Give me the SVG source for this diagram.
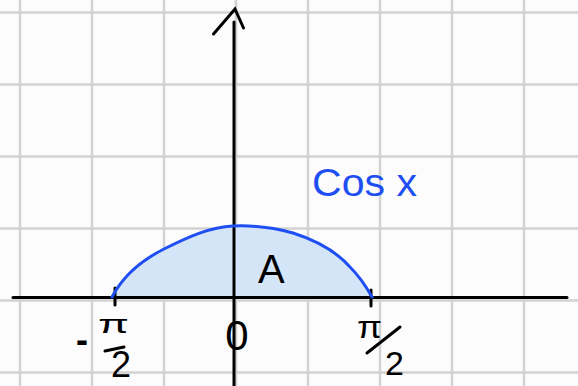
<svg xmlns="http://www.w3.org/2000/svg" width="578" height="386" viewBox="0 0 578 386">
  <style>
    .grid line { stroke: #d2d2d2; stroke-width: 2.5; }
    .ink { stroke: #000; stroke-width: 3; stroke-linecap: round; fill: none; }
    .lbl { font-family: "Liberation Sans", Arial, sans-serif; fill: #000; }
    .blue { font-family: "Liberation Sans", Arial, sans-serif; fill: #1f4ff2; }
  </style>
  <rect width="578" height="386" fill="#fcfcfc"/>
  <g id="grid" class="grid">
    <line x1="20" y1="0" x2="20" y2="386"/>
    <line x1="92" y1="0" x2="92" y2="386"/>
    <line x1="164" y1="0" x2="164" y2="386"/>
    <line x1="236" y1="0" x2="236" y2="386"/>
    <line x1="308" y1="0" x2="308" y2="386"/>
    <line x1="380" y1="0" x2="380" y2="386"/>
    <line x1="452" y1="0" x2="452" y2="386"/>
    <line x1="524" y1="0" x2="524" y2="386"/>
    <line x1="0" y1="12.5" x2="578" y2="12.5"/>
    <line x1="0" y1="84.5" x2="578" y2="84.5"/>
    <line x1="0" y1="156.5" x2="578" y2="156.5"/>
    <line x1="0" y1="228.5" x2="578" y2="228.5"/>
    <line x1="0" y1="300.5" x2="578" y2="300.5"/>
    <line x1="0" y1="372.5" x2="578" y2="372.5"/>
  </g>
  <g id="area">
    <path d="M112,297 C122,278 140,261 164,249 C188,237 210,227 233,226 C255,225 275,228 293,233 C312,239 335,250 350,267 C360,277 367,288 372,297 Z" fill="#d4e5f8"/>
  </g>
  <g id="connectors">
    <line class="ink" x1="13" y1="297.5" x2="567" y2="297.5"/>
    <line class="ink" x1="234" y1="22" x2="234" y2="386"/>
    <polyline class="ink" points="213.5,34 235,9 243.5,28"/>
    <line class="ink" x1="115" y1="288" x2="115" y2="305"/>
    <line class="ink" x1="371" y1="290" x2="371" y2="306"/>
  </g>
  <g id="curve">
    <path d="M112,297 C122,278 140,261 164,249 C188,237 210,227 233,226 C255,225 275,228 293,233 C312,239 335,250 350,267 C360,277 367,288 372,297" fill="none" stroke="#1f4ff2" stroke-width="3" stroke-linecap="round"/>
  </g>
  <g id="label-cos">
    <text class="blue" x="312" y="196" font-size="39" textLength="105" lengthAdjust="spacingAndGlyphs">Cos x</text>
  </g>
  <g id="label-A">
    <text class="lbl" x="258" y="283" font-size="40">A</text>
  </g>
  <g id="label-zero">
    <text class="lbl" x="237" y="350" font-size="42" text-anchor="middle">0</text>
  </g>
  <g id="label-neg-pi-2">
    <text class="lbl" x="76" y="352" font-size="36" font-weight="bold">-</text>
    <text class="lbl" x="98" y="333" font-size="26" textLength="31" lengthAdjust="spacingAndGlyphs">π</text>
    <line class="ink" x1="105" y1="351" x2="124" y2="347"/>
    <text class="lbl" x="111" y="377" font-size="36">2</text>
  </g>
  <g id="label-pi-2">
    <text class="lbl" x="357" y="338" font-size="32" textLength="25" lengthAdjust="spacingAndGlyphs">π</text>
    <line class="ink" x1="367" y1="353" x2="400" y2="327"/>
    <text class="lbl" x="385" y="375" font-size="34">2</text>
  </g>
</svg>
